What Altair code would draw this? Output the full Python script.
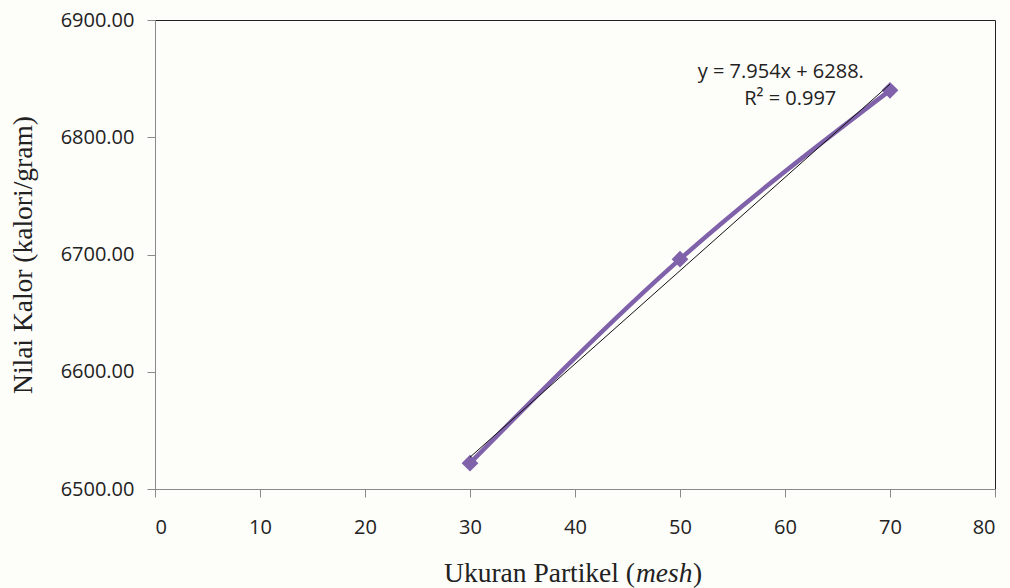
import altair as alt
import pandas as pd

mesh = [30, 50, 70]
kalor = [6522, 6696, 6840]
slope = 7.954
intercept = 6288.5
eq_lines = ["y = 7.954x + 6288.", "R² = 0.997"]
eq_x = [59.6, 60.5]
eq_y = [6855.5, 6832.5]

df = pd.DataFrame({"mesh": mesh, "kalor": kalor})
trend = pd.DataFrame({"mesh": [mesh[0], mesh[-1]],
                      "kalor": [slope * mesh[0] + intercept, slope * mesh[-1] + intercept]})
ann = pd.DataFrame({"mesh": eq_x, "kalor": eq_y, "t": eq_lines})

W, H = 840, 469
purple = "#7f62aa"
lab_font = "Open Sans"

x = alt.X("mesh:Q", scale=alt.Scale(domain=[0, 80], nice=False),
          axis=alt.Axis(values=list(range(0, 81, 10)), title=None, grid=False,
                        domainColor="#8a8a8a", tickColor="#8a8a8a", tickSize=8,
                        labelFont=lab_font, labelFontSize=20, labelColor="#222",
                        labelPadding=20))
y = alt.Y("kalor:Q", scale=alt.Scale(domain=[6500, 6900], nice=False, zero=False),
          axis=alt.Axis(values=list(range(6500, 6901, 100)), format=".2f",
                        title="Nilai Kalor (kalori/gram)", grid=False,
                        domainColor="#8a8a8a", tickColor="#8a8a8a", tickSize=8,
                        labelFont=lab_font, labelFontSize=20, labelColor="#222",
                        labelPadding=13, titleFont="Liberation Serif", titleFontSize=27.5,
                        titleFontWeight="normal", titleColor="#222", titlePadding=23))

line = alt.Chart(df).mark_line(color=purple, strokeWidth=4.5, interpolate="monotone").encode(x=x, y=y)
pts = alt.Chart(df).mark_point(shape="diamond", filled=True, color=purple, size=280, opacity=1).encode(x=x, y=y)
tl = alt.Chart(trend).mark_line(color="#111", strokeWidth=1).encode(x=x, y=y)
txt = alt.Chart(ann).mark_text(font=lab_font, fontSize=20, color="#222", align="center",
                               baseline="middle").encode(x=x, y=y, text="t:N")

ty = H + 93
x0 = 480
xt1 = alt.Chart(pd.DataFrame({"t": ["Ukuran Partikel ("]})).mark_text(
    font="Liberation Serif", fontSize=27.5, color="#222", align="right", baseline="alphabetic").encode(
    x=alt.value(x0), y=alt.value(ty), text="t:N")
xt2 = alt.Chart(pd.DataFrame({"t": ["mesh"]})).mark_text(
    font="Liberation Serif", fontSize=27.5, fontStyle="italic", color="#222", align="left",
    baseline="alphabetic").encode(x=alt.value(x0 + 1), y=alt.value(ty), text="t:N")
xt3 = alt.Chart(pd.DataFrame({"t": [")"]})).mark_text(
    font="Liberation Serif", fontSize=27.5, color="#222", align="left", baseline="alphabetic").encode(
    x=alt.value(x0 + 58), y=alt.value(ty), text="t:N")

chart = alt.layer(line, pts, tl, txt, xt1, xt2, xt3).properties(
    width=W, height=H, background="#fdfdf9",
    autosize=alt.AutoSizeParams(type="none"),
    padding={"left": 155, "top": 20, "right": 15, "bottom": 99},
).configure_view(stroke="#222", strokeWidth=1)

chart.save("out.html", embed_options={"renderer": "svg", "actions": False})
